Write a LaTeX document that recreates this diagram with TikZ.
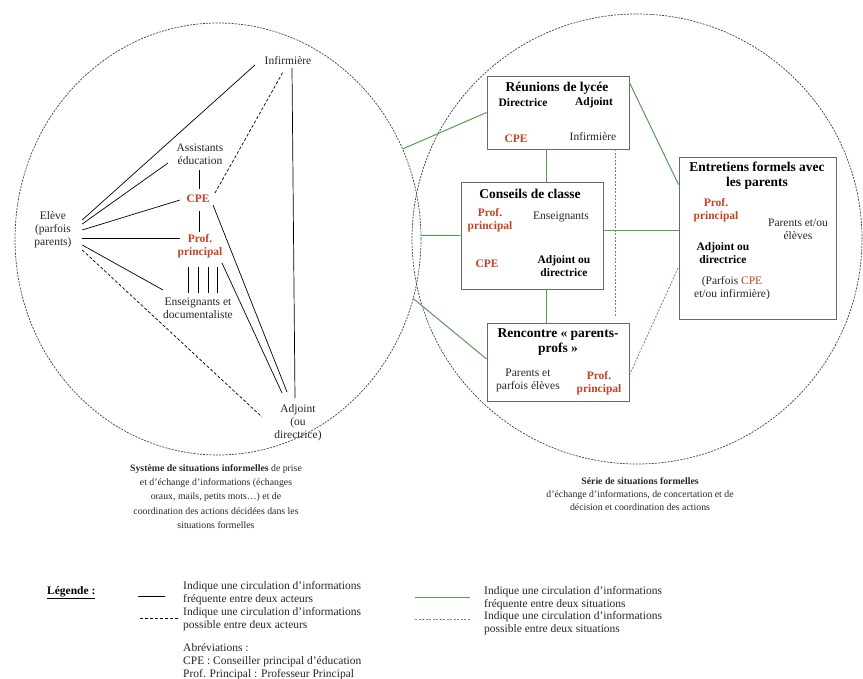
\documentclass[tikz,border=0pt]{standalone}
\usepackage{fontspec}
\setmainfont{Liberation Serif}
\usepackage{tikz}
\usetikzlibrary{shapes.geometric}
\definecolor{rougecpe}{RGB}{196,66,36}
\definecolor{vertsit}{RGB}{84,158,84}
\definecolor{grisbord}{RGB}{105,105,105}

\begin{document}
\begin{tikzpicture}[x=1pt,y=-1pt,
  txt/.style={font=\fontsize{11.5}{13}\selectfont,text=black!85,align=center,inner sep=1pt},
  actbf/.style={txt,font=\fontsize{11.5}{13}\selectfont\bfseries,text=black},
  rouge/.style={actbf,text=rougecpe},
  titre/.style={font=\fontsize{13.5}{15}\selectfont\bfseries,align=center,inner sep=0pt},
  situation/.style={draw=grisbord,line width=0.9pt,inner sep=0pt},
  cercle/.style={draw=black!75,line width=0.7pt,dash pattern=on 2pt off 1.2pt,inner sep=0pt},
  frequent/.style={line width=0.7pt},
  possible/.style={line width=0.7pt,dash pattern=on 3pt off 2pt},
  vfrequent/.style={vertsit,line width=1pt},
  vpossible/.style={vertsit,line width=0.8pt,dash pattern=on 2pt off 1.5pt},
  leg/.style={txt,anchor=west,align=left,inner sep=0pt},
  legende/.style={font=\fontsize{9.8}{14.2}\selectfont,text=black!85,align=center,inner sep=0pt}]
  \useasboundingbox (0,0) rectangle (863,679);

  \node[ellipse,cercle,minimum width=406,minimum height=432] (informel) at (218,239) {};
  \node[circle,cercle,minimum size=450] (formel) at (637,239) {};

  \node[txt,minimum width=58,minimum height=42,inner sep=0pt] (eleve) at (53,230) {Elève\\(parfois\\parents)};
  \node[txt] (infL) at (288,61) {Infirmière};
  \node[txt] (assist) at (200,154) {Assistants\\éducation};
  \node[rouge] (cpeL) at (198,199) {CPE};
  \node[rouge] (profL) at (200,246) {Prof.\\principal};
  \node[txt] (ensL) at (198,308) {Enseignants et\\documentaliste};
  \node[txt] (adjL) at (298,423) {Adjoint\\(ou\\directrice)};

  \draw[frequent] ([shift={(0,-10)}]eleve.east) -- ([shift={(-33,4)}]infL.center);
  \draw[frequent] ([shift={(0,-6)}]eleve.east) -- ([shift={(-32,9)}]assist.center);
  \draw[frequent] (eleve.east) -- ([shift={(-18,1)}]cpeL.center);
  \draw[frequent] ([shift={(0,8)}]eleve.east) -- ([shift={(-20,-8)}]profL.center);
  \draw[frequent] ([shift={(0,15)}]eleve.east) -- ([shift={(-35,-18)}]ensL.center);
  \draw[possible] ([shift={(0,20)}]eleve.east) -- ([shift={(-36,-6)}]adjL.center);
  \draw[frequent] ([shift={(-1,16)}]assist.center) -- ([shift={(1,-10)}]cpeL.center);
  \draw[frequent] ([shift={(1,12)}]cpeL.center) -- ([shift={(-1,-14)}]profL.center);
  \draw[possible] ([shift={(17,-6)}]cpeL.center) -- ([shift={(-5,11)}]infL.center);
  \draw[frequent] ([shift={(15,6)}]cpeL.center) -- ([shift={(-11,-31)}]adjL.center);
  \draw[frequent] ([shift={(22,17)}]profL.center) -- ([shift={(-16,-30)}]adjL.center);
  \draw[frequent] ([shift={(4,7)}]infL.center) -- ([shift={(-3,-25)}]adjL.center);
  \foreach \dx in {-12,-2,8,17}
    \draw[frequent] ([shift={(\dx,21)}]profL.center) -- ([shift={(\dx+2,-15)}]ensL.center);

  \node[situation,minimum width=142,minimum height=73] (reunion) at (558,112.5) {};
  \node[titre] (reuniontitre) at (557,88) {Réunions de lycée};
  \node[actbf] (reuniondir) at (523,103) {Directrice};
  \node[actbf] (reunionadj) at (594,103) {Adjoint};
  \node[rouge] (reunioncpe) at (516,139) {CPE};
  \node[txt] (reunioninf) at (593,137) {Infirmière};

  \node[situation,minimum width=142,minimum height=107] (conseil) at (532,235.5) {};
  \node[titre] (conseiltitre) at (530,194) {Conseils de classe};
  \node[rouge] (conseilprof) at (490,220) {Prof.\\principal};
  \node[txt] (conseilens) at (561,217) {Enseignants};
  \node[rouge] (conseilcpe) at (487,264) {CPE};
  \node[actbf] (conseiladj) at (564,266) {Adjoint ou\\directrice};

  \node[situation,minimum width=142,minimum height=78] (rencontre) at (558,362) {};
  \node[titre] (rencontretitre) at (558,342.5) {Rencontre «~parents-\\profs~»};
  \node[txt] (rencontrepar) at (528,380) {Parents et\\parfois élèves};
  \node[rouge] (rencontreprof) at (599,383.5) {Prof.\\principal};

  \node[situation,minimum width=157,minimum height=162] (entretien) at (757.5,238) {};
  \node[titre] (entretientitre) at (757,175.5) {Entretiens formels avec\\les parents};
  \node[rouge] (entretienprof) at (716,210.5) {Prof.\\principal};
  \node[txt] (entretienpar) at (798,229) {Parents et/ou\\élèves};
  \node[actbf] (entretienadj) at (723,253) {Adjoint ou\\directrice};
  \node[txt] (entretienparf) at (732,288.5) {(Parfois \textcolor{rougecpe}{CPE}\\et/ou infirmière)};

  \draw[vfrequent] (informel.26) -- (reunion.west);
  \draw[vfrequent] (informel.1) -- (conseil.west);
  \draw[vfrequent] (informel.-17) -- ([yshift=3pt]rencontre.west);
  \draw[vfrequent] ([xshift=-12pt]reunion.south) -- ([xshift=-12pt]reunion.south |- conseil.north);
  \draw[vfrequent] ([xshift=-12pt]rencontre.north) -- ([xshift=-12pt]rencontre.north |- conseil.south);
  \draw[vpossible,shorten >=6pt] ([xshift=57pt]reunion.south) -- ([xshift=57pt]reunion.south |- rencontre.north);
  \draw[vfrequent] ([yshift=-7pt]reunion.north east) -- ([yshift=-28pt]entretien.north west);
  \draw[vfrequent] ([yshift=5pt]conseil.east) -- ([yshift=5pt]conseil.east -| entretien.west);
  \draw[vpossible] ([yshift=-13pt]rencontre.east) -- ([yshift=-29pt]entretien.west);

  \node[legende] (captionL) at (216,496.5) {\textbf{Système de situations informelles} de prise\\et d’échange d’informations (échanges\\oraux, mails, petits mots…) et de\\coordination des actions décidées dans les\\situations formelles};
  \node[legende,font=\fontsize{9.8}{13}\selectfont] (captionR) at (640,494) {\textbf{Série de situations formelles}\\d’échange d’informations, de concertation et de\\décision et coordination des actions};

  \node[font=\fontsize{11.5}{13}\selectfont\bfseries,anchor=west,inner sep=0pt] (legendetitre) at (47,593) {\underline{Légende :}};
  \node[leg] (legfreq) at (183,593.5) {Indique une circulation d’informations\\fréquente entre deux acteurs};
  \draw[frequent] ([xshift=-45pt,yshift=-2.5pt]legfreq.west) -- ([xshift=-18pt,yshift=-2.5pt]legfreq.west);
  \node[leg] (legposs) at (183,619.5) {Indique une circulation d’informations\\possible entre deux acteurs};
  \draw[possible] ([xshift=-43pt,yshift=1.5pt]legposs.west) -- ([xshift=-5pt,yshift=1.5pt]legposs.west);
  \node[leg] (abrev) at (183,662) {Abréviations :\\CPE : Conseiller principal d’éducation\\Prof. Principal : Professeur Principal};
  \node[leg] (legvfreq) at (484,598) {Indique une circulation d’informations\\fréquente entre deux situations};
  \draw[vfrequent] ([xshift=-69pt,yshift=1pt]legvfreq.west) -- ([xshift=-14pt,yshift=1pt]legvfreq.west);
  \node[leg] (legvposs) at (484,623) {Indique une circulation d’informations\\possible entre deux situations};
  \draw[vpossible] ([xshift=-69pt,yshift=4pt]legvposs.west) -- ([xshift=-14pt,yshift=4pt]legvposs.west);
\end{tikzpicture}
\end{document}
